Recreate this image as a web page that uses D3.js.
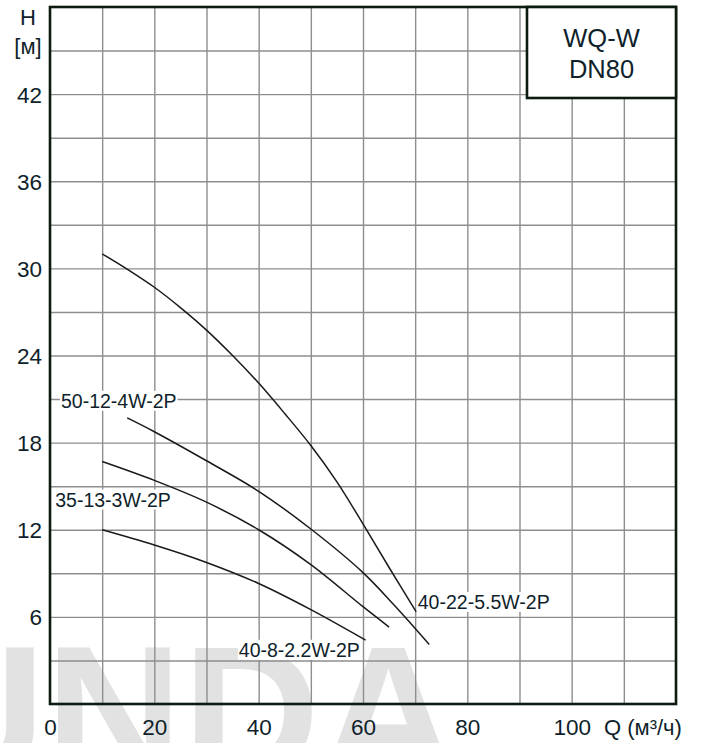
<!DOCTYPE html>
<html><head><meta charset="utf-8">
<script src="https://cdn.jsdelivr.net/npm/d3@7/dist/d3.min.js"></script>
<style>
body{margin:0;background:#fff}
svg{display:block}
text{font-family:"Liberation Sans",Arial,Helvetica,sans-serif}
</style>
</head><body>
<svg id="chart" width="712" height="743"></svg>
<script>
// ---- data ----
const xTickValues = [0, 20, 40, 60, 80, 100];
const yTickValues = [6, 12, 18, 24, 30, 36, 42];
const xGridValues = [10, 20, 30, 40, 50, 60, 70, 80, 90, 100, 110];
const yGridValues = [3, 6, 9, 12, 15, 18, 21, 24, 27, 30, 33, 36, 39, 42, 45];

const seriesNames = ["40-22-5.5W-2P", "50-12-4W-2P", "35-13-3W-2P", "40-8-2.2W-2P"];
const q_40_22 = [10, 15, 20, 25, 30, 35, 40, 45, 50, 55, 60, 65, 70.2];
const h_40_22 = [31.0, 29.9, 28.7, 27.3, 25.75, 24.0, 22.1, 20.0, 17.8, 15.3, 12.4, 9.4, 6.35];
const q_50_12 = [14.8, 20, 30, 40, 50, 60, 66, 72.7];
const h_50_12 = [19.7, 18.75, 16.75, 14.65, 12.05, 9.05, 6.8, 4.1];
const q_35_13 = [10, 20, 30, 40, 50, 60, 65];
const h_35_13 = [16.7, 15.4, 13.9, 12.0, 9.6, 6.7, 5.3];
const q_40_8 = [10, 20, 30, 40, 50, 60.5];
const h_40_8 = [12.0, 10.95, 9.75, 8.3, 6.5, 4.4];

// label anchors in data units (Q, H)
const labelQ = [70.5, 2.1, 1.0, 36.2];
const labelH = [6.55, 20.4, 13.6, 3.25];

const boxLines = ["WQ-W", "DN80"];
const yUnitLines = ["H", "[м]"];
const xUnitLabel = "Q (м³/ч)";
const watermark = "UNDA";

// ---- layout ----
const svg = d3.select("#chart");
const L = 50, R = 676, T = 7, B = 704;
const x = d3.scaleLinear().domain([0, 120]).range([L, R]);
const y = d3.scaleLinear().domain([0, 48]).range([B, T]);
const textColor = "#0f1f2b";
const frameColor = "#0c1a10";
const fam = "Liberation Sans, Arial, sans-serif";

// watermark
svg.append("text").text(watermark)
  .attr("x", -92).attr("y", 778)
  .attr("font-size", 190).attr("font-weight", "bold")
  .attr("fill", "#e2e2e2");

// grid via axes
const gx = svg.append("g").attr("transform", `translate(0,${B})`)
  .call(d3.axisBottom(x).tickValues(xGridValues).tickSize(-(B - T)).tickFormat(""));
gx.select(".domain").remove();
gx.selectAll("line").attr("stroke", "#8e8e8e").attr("stroke-width", 1.4);

const gy = svg.append("g").attr("transform", `translate(${L},0)`)
  .call(d3.axisLeft(y).tickValues(yGridValues).tickSize(-(R - L)).tickFormat(""));
gy.select(".domain").remove();
gy.selectAll("line").attr("stroke", "#8e8e8e").attr("stroke-width", 1.4);

// curves
const seriesQ = [q_40_22, q_50_12, q_35_13, q_40_8];
const seriesH = [h_40_22, h_50_12, h_35_13, h_40_8];
const line = d3.line().x(d => x(d[0])).y(d => y(d[1])).curve(d3.curveCatmullRom.alpha(0.5));
seriesQ.forEach((qs, i) => {
  const pts = qs.map((q, j) => [q, seriesH[i][j]]);
  svg.append("path").attr("d", line(pts))
    .attr("fill", "none").attr("stroke", "#1a1a1a").attr("stroke-width", 1.5);
});

// curve labels with white background
seriesNames.forEach((name, i) => {
  const g = svg.append("g");
  const t = g.append("text").text(name)
    .attr("x", x(labelQ[i])).attr("y", y(labelH[i]))
    .attr("font-size", 19.5).attr("fill", textColor);
  const bb = t.node().getBBox();
  g.insert("rect", "text")
    .attr("x", bb.x - 1).attr("y", bb.y + 1)
    .attr("width", bb.width + 2).attr("height", bb.height - 2)
    .attr("fill", "#fff");
});

// frame
svg.append("rect").attr("x", L).attr("y", T).attr("width", R - L).attr("height", B - T)
  .attr("fill", "none").attr("stroke", frameColor).attr("stroke-width", 2.6);

// tick labels
const ay = svg.append("g").attr("transform", `translate(${L},0)`)
  .call(d3.axisLeft(y).tickValues(yTickValues).tickSize(0).tickPadding(8));
ay.select(".domain").remove();
ay.attr("font-family", fam).attr("font-size", 22.5);
ay.selectAll("text").attr("font-size", 22.5).attr("fill", textColor).attr("dy", "0.36em");

const ax = svg.append("g").attr("transform", `translate(0,${B})`)
  .call(d3.axisBottom(x).tickValues(xTickValues).tickSize(0));
ax.select(".domain").remove();
ax.attr("font-family", fam).attr("font-size", 22.5);
ax.selectAll("text").attr("font-size", 22.5).attr("fill", textColor).attr("y", 31).attr("dy", 0);

// axis unit labels
svg.append("text").text(xUnitLabel)
  .attr("x", 604).attr("y", 735).attr("font-size", 22).attr("fill", textColor);
yUnitLines.forEach((s, i) => {
  svg.append("text").text(s).attr("x", 28).attr("y", 25 + i * 29)
    .attr("text-anchor", "middle").attr("font-size", 22).attr("fill", textColor);
});

// title box
svg.append("rect").attr("x", 527).attr("y", T).attr("width", R - 527).attr("height", 91)
  .attr("fill", "#fff").attr("stroke", frameColor).attr("stroke-width", 2.6);
boxLines.forEach((s, i) => {
  svg.append("text").text(s).attr("x", (527 + R) / 2).attr("y", 47 + i * 31)
    .attr("text-anchor", "middle").attr("font-size", 25.5).attr("fill", textColor);
});
</script>
</body></html>
